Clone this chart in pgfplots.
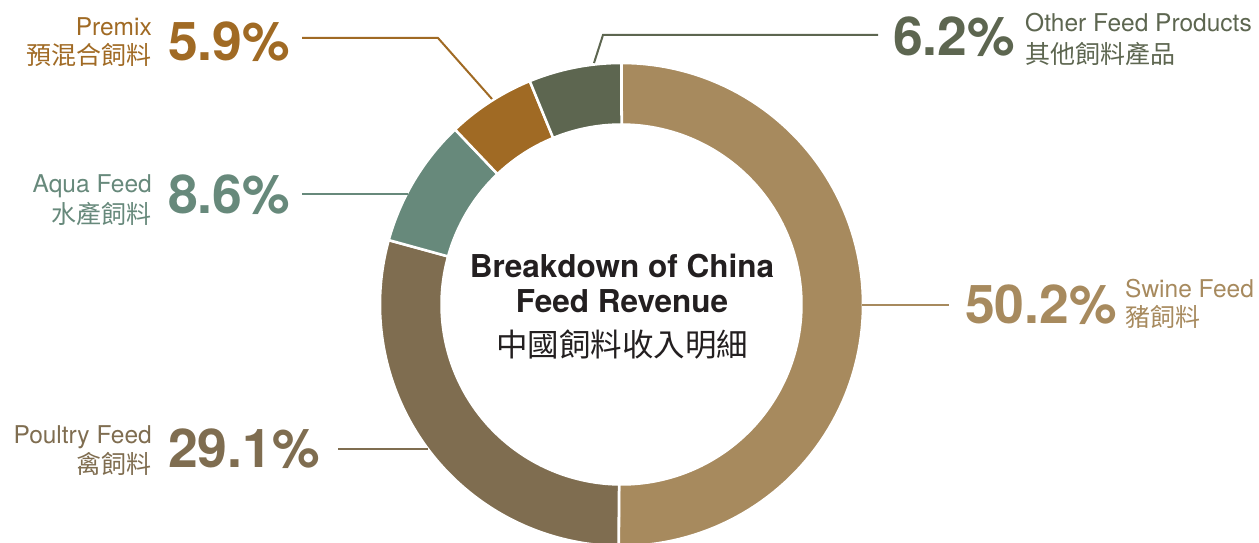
\documentclass[border=0pt]{standalone}
\usepackage{fontspec}
\setmainfont{TeX Gyre Heros}
\newfontfamily\cjk{Noto Sans CJK TC}
\usepackage{pgfplots}
\usepackage{pgfplotstable}
\pgfplotsset{compat=1.18}
\definecolor{swine}{HTML}{A78A5E}
\definecolor{poultry}{HTML}{7F6D50}
\definecolor{aqua}{HTML}{67897B}
\definecolor{premix}{HTML}{A06A24}
\definecolor{other}{HTML}{5D6650}
\definecolor{titlec}{HTML}{231F20}

\pgfplotstableread{
name value
Swine 50.2
Poultry 29.1
Aqua 8.6
Premix 5.9
Other 6.2
}\feeddata

\newcommand{\pct}{\fontsize{53.5}{54}\selectfont\bfseries}
\newcommand{\lab}{\fontsize{24.5}{26}\selectfont}
\newcommand{\clab}{\cjk\fontsize{25}{26}\selectfont}

\begin{document}
\begin{tikzpicture}[x=1pt,y=1pt]
\path[use as bounding box] (0,0) rectangle (1259,542);
\begin{axis}[at={(0,0)},anchor=south west,
  width=1259pt,height=542pt,scale only axis,
  xmin=0,xmax=1259,ymin=0,ymax=542,
  hide axis, clip mode=individual]
\pgfmathsetmacro\cum{0}
\pgfplotsforeachungrouped \i/\c in {0/swine,1/poultry,2/aqua,3/premix,4/other} {%
  \pgfplotstablegetelem{\i}{value}\of\feeddata
  \pgfmathsetmacro\a{90-3.6*\cum}%
  \pgfmathsetmacro\cum{\cum+\pgfplotsretval}%
  \pgfmathsetmacro\b{90-3.6*\cum}%
  \edef\temp{\noexpand\addplot[fill=\c, draw=white, line width=2.5pt,
    samples at={0,0.01,...,1,2,2.01,...,3}]
    ({621.5+(x<=1.5 ? 241.5 : 180)*cos(x<=1.5 ? (\a)+((\b)-(\a))*x : (\b)-((\b)-(\a))*(x-2))},
     {237.5+(x<=1.5 ? 241.5 : 180)*sin(x<=1.5 ? (\a)+((\b)-(\a))*x : (\b)-((\b)-(\a))*(x-2))}) --cycle;}%
  \temp
}

% leader lines
\draw[premix, line width=2pt] (axis cs:302,504) -- (axis cs:438,504) -- (axis cs:492,443);
\draw[other, line width=2pt] (axis cs:878,507) -- (axis cs:603,507) -- (axis cs:594,479);
\draw[aqua, line width=2pt] (axis cs:302,348) -- (axis cs:408,348);
\draw[swine, line width=2pt] (axis cs:862,237) -- (axis cs:949,237);
\draw[poultry, line width=2pt] (axis cs:338,93) -- (axis cs:428,93);

% Premix
\node[premix, anchor=base east, inner sep=0] at (axis cs:152,506) {\lab Premix};
\node[premix, anchor=east, inner sep=0] at (axis cs:152,487) {\clab 預混合飼料};
\node[premix, anchor=base west, inner sep=0] at (axis cs:168,481) {\pct 5.9\%};
% Other
\node[other, anchor=base west, inner sep=0] at (axis cs:893,486) {\pct 6.2\%};
\node[other, anchor=base west, inner sep=0] at (axis cs:1025,510) {\lab Other Feed Products};
\node[other, anchor=west, inner sep=0] at (axis cs:1025,488) {\clab 其他飼料產品};
% Aqua
\node[aqua, anchor=base east, inner sep=0] at (axis cs:152,349) {\lab Aqua Feed};
\node[aqua, anchor=east, inner sep=0] at (axis cs:152,328) {\clab 水產飼料};
\node[aqua, anchor=base west, inner sep=0] at (axis cs:168,329) {\pct 8.6\%};
% Swine
\node[swine, anchor=base west, inner sep=0] at (axis cs:965,219) {\pct 50.2\%};
\node[swine, anchor=base west, inner sep=0] at (axis cs:1125,245) {\lab Swine Feed};
\node[swine, anchor=west, inner sep=0] at (axis cs:1125,225) {\clab 豬飼料};
% Poultry
\node[poultry, anchor=base east, inner sep=0] at (axis cs:152,99) {\lab Poultry Feed};
\node[poultry, anchor=east, inner sep=0] at (axis cs:152,78) {\clab 禽飼料};
\node[poultry, anchor=base west, inner sep=0] at (axis cs:168,75) {\pct 29.1\%};
% centre title
\node[titlec, anchor=base, inner sep=0] at (axis cs:622,265) {\fontsize{31.5}{32}\selectfont\bfseries Breakdown of China};
\node[titlec, anchor=base, inner sep=0] at (axis cs:622,230) {\fontsize{31.5}{32}\selectfont\bfseries Feed Revenue};
\node[titlec, anchor=center, inner sep=0] at (axis cs:622,197) {\cjk\fontsize{31.5}{32}\selectfont 中國飼料收入明細};
\end{axis}
\end{tikzpicture}
\end{document}
